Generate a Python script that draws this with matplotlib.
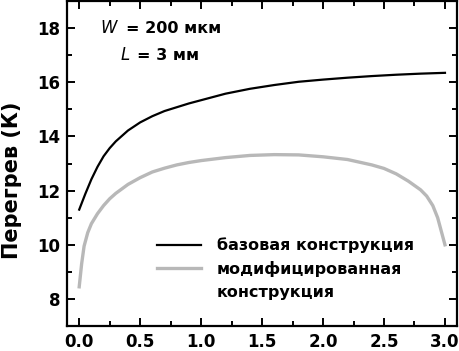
import numpy as np
import matplotlib
matplotlib.use("Agg")
import matplotlib.pyplot as plt
from matplotlib.ticker import MultipleLocator
from matplotlib.lines import Line2D

plt.rcParams['font.family'] = ['DejaVu Sans']
plt.rcParams['font.weight'] = 'bold'

# base design
x_base = [0.0, 0.05, 0.1, 0.15, 0.2, 0.25, 0.3, 0.4, 0.5, 0.6, 0.7, 0.8, 0.9, 1.0,
          1.2, 1.4, 1.6, 1.8, 2.0, 2.2, 2.4, 2.6, 2.8, 3.0]
y_base = [11.3, 11.88, 12.42, 12.88, 13.27, 13.57, 13.82, 14.22, 14.52, 14.75, 14.94,
          15.08, 15.22, 15.34, 15.58, 15.76, 15.9, 16.02, 16.1, 16.17, 16.23, 16.28,
          16.32, 16.35]

# modified design
x_mod = [0.0, 0.02, 0.04, 0.07, 0.1, 0.15, 0.2, 0.25, 0.3, 0.4, 0.5, 0.6, 0.7, 0.8,
         0.9, 1.0, 1.2, 1.4, 1.6, 1.8, 2.0, 2.2, 2.4, 2.5, 2.6, 2.7, 2.8, 2.85, 2.9,
         2.94, 2.97, 3.0]
y_mod = [8.45, 9.3, 9.95, 10.45, 10.78, 11.15, 11.45, 11.7, 11.9, 12.23, 12.48, 12.69,
         12.83, 12.95, 13.04, 13.11, 13.22, 13.3, 13.33, 13.32, 13.25, 13.15, 12.95,
         12.82, 12.62, 12.35, 12.03, 11.8, 11.45, 11.0, 10.5, 10.0]

labels = ['базовая конструкция', 'модифицированная', 'конструкция']

fig = plt.figure(figsize=(4.59, 3.51), dpi=100)
ax = fig.add_axes([0.146, 0.071, 0.85, 0.926])

l1, = ax.plot(x_base, y_base, color='black', lw=1.6)
l2, = ax.plot(x_mod, y_mod, color='#b8b8b8', lw=2.4)
blank = Line2D([], [], color='none')

ax.set_xlim(-0.1, 3.1)
ax.set_ylim(7, 19)
ax.xaxis.set_major_locator(MultipleLocator(0.5))
ax.xaxis.set_minor_locator(MultipleLocator(0.25))
ax.yaxis.set_minor_locator(MultipleLocator(1))
ax.set_yticks([8, 10, 12, 14, 16, 18])
ax.tick_params(which='both', direction='in', top=True, right=True, width=1.4,
               labelsize=12, pad=5)
ax.tick_params(which='major', length=6)
ax.tick_params(which='minor', length=3.5)
for s in ax.spines.values():
    s.set_linewidth(1.6)

ax.set_ylabel('Перегрев (К)', fontsize=15, fontweight='bold')
ax.yaxis.set_label_coords(-0.115, 0.449)

ax.text(0.085, 0.917, 'W', transform=ax.transAxes, fontsize=12, style='italic',
        fontweight='normal', va='center')
ax.text(0.152, 0.917, '= 200 мкм', transform=ax.transAxes, fontsize=11.5, va='center')
ax.text(0.136, 0.834, 'L', transform=ax.transAxes, fontsize=12, style='italic',
        fontweight='normal', va='center')
ax.text(0.179, 0.834, '= 3 мм', transform=ax.transAxes, fontsize=11.5, va='center')

ax.legend([l1, l2, blank], labels, loc='upper left', bbox_to_anchor=(0.231, 0.272),
          frameon=False, fontsize=11.5, handlelength=2.75, handletextpad=1.0,
          borderpad=0, borderaxespad=0, labelspacing=0.48)

fig.savefig('out.png', dpi=100)
